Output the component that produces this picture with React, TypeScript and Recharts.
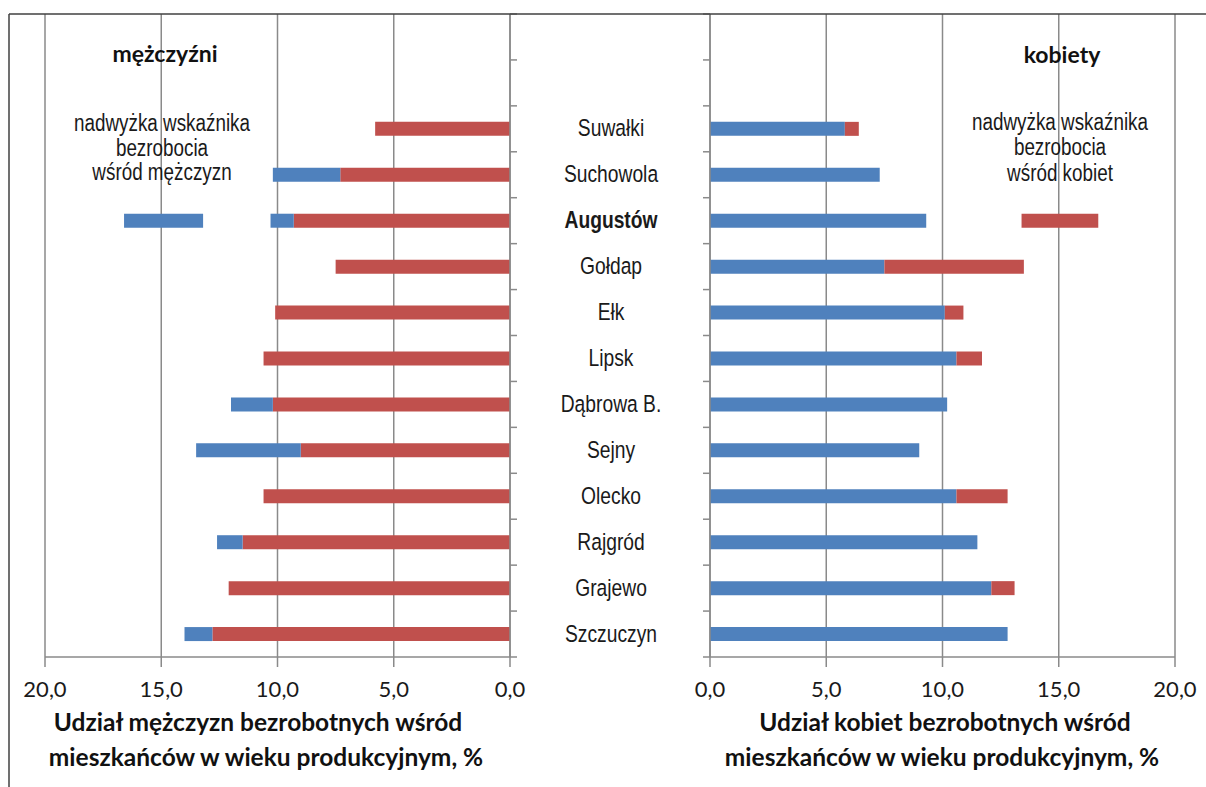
import React from "react";
import { BarChart, Bar, XAxis, YAxis, CartesianGrid } from "recharts";

// towns, top to bottom
const categories = [
  "Suwałki",
  "Suchowola",
  "Augustów",
  "Gołdap",
  "Ełk",
  "Lipsk",
  "Dąbrowa B.",
  "Sejny",
  "Olecko",
  "Rajgród",
  "Grajewo",
  "Szczuczyn",
];
// share of unemployed among working-age residents, %
const menRate = [5.8, 10.2, 10.3, 7.5, 10.1, 10.6, 12.0, 13.5, 10.6, 12.6, 12.1, 14.0];
const womenRate = [6.4, 7.3, 9.3, 13.5, 10.9, 11.7, 10.2, 9.0, 12.8, 11.5, 13.1, 12.8];

// two empty rows above the towns (room for the headings)
const spacerRows = ["spacer-1", "spacer-2"];

// legend key bars sit in the Augustów row
const legendRow = "Augustów";
const menKeyRange = [13.2, 16.6];
const womenKeyRange = [13.4, 16.7];

const xTicks = [0, 5, 10, 15, 20];

const RED = "#C0504D";
const BLUE = "#4F81BD";
const GRID = "#8a8a8a";
const FRAME = "#404040";
const ARIAL = "'Liberation Sans', Arial, sans-serif";
const HUMAN = "Lato, 'Open Sans', sans-serif";
const SQUEEZE = 0.82; // Arial Narrow look

const H = 787;
const PLOT_TOP = 14;
const PLOT_BOTTOM = 657;

type Row = {
  name: string;
  common: number;
  menExcess: number;
  womenExcess: number;
  menGap: number;
  menKey: number;
  womenGap: number;
  womenKey: number;
};

const rows: Row[] = [
  ...spacerRows.map((name) => ({
    name,
    common: 0,
    menExcess: 0,
    womenExcess: 0,
    menGap: 0,
    menKey: 0,
    womenGap: 0,
    womenKey: 0,
  })),
  ...categories.map((name, i) => {
    const m = menRate[i];
    const w = womenRate[i];
    const common = Math.min(m, w);
    const isKey = name === legendRow;
    return {
      name,
      common,
      menExcess: +(m - common).toFixed(2),
      womenExcess: +(w - common).toFixed(2),
      menGap: isKey ? menKeyRange[0] - m : 0,
      menKey: isKey ? menKeyRange[1] - menKeyRange[0] : 0,
      womenGap: isKey ? womenKeyRange[0] - w : 0,
      womenKey: isKey ? womenKeyRange[1] - womenKeyRange[0] : 0,
    };
  }),
];

const BAND = (PLOT_BOTTOM - PLOT_TOP) / rows.length;

const fmt = (v: number) => v.toFixed(1).replace(".", ",");

// condensed Arial-like text
const NarrowText = ({ x, y, size, bold, children, baseline }: any) => (
  <text
    transform={`translate(${x} ${y}) scale(${SQUEEZE} 1)`}
    x={0}
    y={0}
    textAnchor="middle"
    dominantBaseline={baseline}
    fontFamily={ARIAL}
    fontSize={size}
    fontWeight={bold ? 700 : 400}
    fill="#1a1a1a"
  >
    {children}
  </text>
);

// tick marks sit between categories, like in Excel
const LeftTick = (props: any) => {
  const { y, index } = props;
  return (
    <g>
      {index === 0 && (
        <line x1={510} x2={517} y1={y - BAND / 2} y2={y - BAND / 2} stroke={GRID} strokeWidth={1.5} />
      )}
      <line x1={510} x2={517} y1={y + BAND / 2} y2={y + BAND / 2} stroke={GRID} strokeWidth={1.5} />
    </g>
  );
};

const RightTick = (props: any) => {
  const { y, index, payload } = props;
  const label = categories.includes(payload.value) ? payload.value : "";
  return (
    <g>
      {index === 0 && (
        <line x1={193} x2={200} y1={y - BAND / 2} y2={y - BAND / 2} stroke={GRID} strokeWidth={1.5} />
      )}
      <line x1={193} x2={200} y1={y + BAND / 2} y2={y + BAND / 2} stroke={GRID} strokeWidth={1.5} />
      {label && (
        <NarrowText x={101} y={y} size={23.5} bold={label === legendRow} baseline="central">
          {label}
        </NarrowText>
      )}
    </g>
  );
};

const xTickStyle = { fontFamily: HUMAN, fontSize: 22, fill: "#1a1a1a" };

export default function App() {
  return (
    <div style={{ position: "absolute", left: 0, top: 0, width: 1206, height: H, background: "#fff", overflow: "hidden" }}>
      <div style={{ position: "absolute", left: 0, top: 0 }}>
        <BarChart
          layout="vertical"
          width={540}
          height={H}
          data={rows}
          barSize={14}
          margin={{ top: PLOT_TOP, right: 20, bottom: 90, left: 45 }}
        >
          <CartesianGrid horizontal={false} stroke={GRID} strokeWidth={1.5} />
          <XAxis
            type="number"
            domain={[0, 20]}
            ticks={xTicks}
            interval={0}
            reversed
            height={40}
            tickSize={10}
            tickMargin={14}
            tickFormatter={fmt}
            tick={xTickStyle}
            axisLine={{ stroke: GRID, strokeWidth: 1.5 }}
            tickLine={{ stroke: GRID, strokeWidth: 1.5 }}
          />
          <YAxis
            type="category"
            dataKey="name"
            orientation="right"
            width={10}
            interval={0}
            tickLine={false}
            tick={<LeftTick />}
            axisLine={{ stroke: GRID, strokeWidth: 1.5 }}
          />
          <Bar dataKey="common" stackId="m" fill={RED} isAnimationActive={false} />
          <Bar dataKey="menExcess" stackId="m" fill={BLUE} isAnimationActive={false} />
          <Bar dataKey="menGap" stackId="m" fill="transparent" isAnimationActive={false} />
          <Bar dataKey="menKey" stackId="m" fill={BLUE} isAnimationActive={false} />
        </BarChart>
      </div>
      <div style={{ position: "absolute", left: 510, top: 0 }}>
        <BarChart
          layout="vertical"
          width={696}
          height={H}
          data={rows}
          barSize={14}
          margin={{ top: PLOT_TOP, right: 31, bottom: 90, left: 0 }}
        >
          <CartesianGrid horizontal={false} stroke={GRID} strokeWidth={1.5} />
          <XAxis
            type="number"
            domain={[0, 20]}
            ticks={xTicks}
            interval={0}
            height={40}
            tickSize={10}
            tickMargin={14}
            tickFormatter={fmt}
            tick={xTickStyle}
            axisLine={{ stroke: GRID, strokeWidth: 1.5 }}
            tickLine={{ stroke: GRID, strokeWidth: 1.5 }}
          />
          <YAxis
            type="category"
            dataKey="name"
            width={200}
            interval={0}
            tickLine={false}
            tick={<RightTick />}
            axisLine={{ stroke: GRID, strokeWidth: 1.5 }}
          />
          <Bar dataKey="common" stackId="w" fill={BLUE} isAnimationActive={false} />
          <Bar dataKey="womenExcess" stackId="w" fill={RED} isAnimationActive={false} />
          <Bar dataKey="womenGap" stackId="w" fill="transparent" isAnimationActive={false} />
          <Bar dataKey="womenKey" stackId="w" fill={RED} isAnimationActive={false} />
        </BarChart>
      </div>
      <svg width={1206} height={H} style={{ position: "absolute", left: 0, top: 0, pointerEvents: "none" }}>
        {/* picture frame */}
        <line x1={9} x2={1206} y1={14} y2={14} stroke={FRAME} strokeWidth={1.5} />
        <line x1={9} x2={9} y1={14} y2={H} stroke={FRAME} strokeWidth={1.5} />

        <text x={165} y={62} textAnchor="middle" fontFamily={HUMAN} fontWeight={700} fontSize={23} fill="#111">
          mężczyźni
        </text>
        <text x={1062} y={63} textAnchor="middle" fontFamily={HUMAN} fontWeight={700} fontSize={23} fill="#111">
          kobiety
        </text>

        <NarrowText x={162} y={131} size={23}>nadwyżka wskaźnika</NarrowText>
        <NarrowText x={162} y={156} size={23}>bezrobocia</NarrowText>
        <NarrowText x={162} y={180} size={23}>wśród mężczyzn</NarrowText>
        <NarrowText x={1060} y={130} size={23}>nadwyżka wskaźnika</NarrowText>
        <NarrowText x={1060} y={155} size={23}>bezrobocia</NarrowText>
        <NarrowText x={1060} y={181} size={23}>wśród kobiet</NarrowText>

        <g fontFamily={HUMAN} fontWeight={700} fontSize={24.5} fill="#111" textAnchor="middle">
          <text x={258} y={731}>Udział mężczyzn bezrobotnych wśród</text>
          <text x={266} y={766}>mieszkańców w wieku produkcyjnym, %</text>
          <text x={945} y={731}>Udział kobiet bezrobotnych wśród</text>
          <text x={942} y={766}>mieszkańców w wieku produkcyjnym, %</text>
        </g>
      </svg>
    </div>
  );
}
